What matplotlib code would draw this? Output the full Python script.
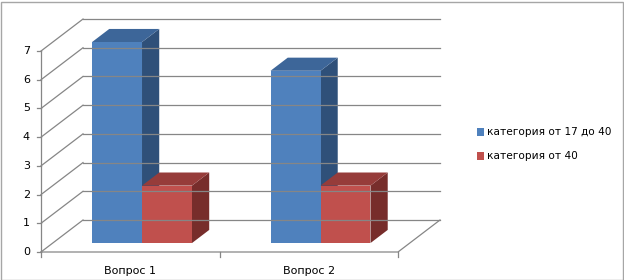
import matplotlib
matplotlib.use("Agg")
import matplotlib.pyplot as plt
from matplotlib.patches import Polygon, Rectangle

categories = ["Вопрос 1", "Вопрос 2"]
series_names = ["категория от 17 до 40", "категория от 40"]
series_values = [[7, 6], [2, 2]]
y_ticks = [0, 1, 2, 3, 4, 5, 6, 7]

front_cols = ["#4F81BD", "#C0504D"]
top_cols = ["#3D6699", "#963C3A"]
side_cols = ["#2F5079", "#772D2B"]
grid_col = "#868686"

W, H = 624, 280
fig = plt.figure(figsize=(W / 100, H / 100), dpi=100)
ax = fig.add_axes([0, 0, 1, 1])
ax.axis("off")

# pixel geometry of the front plane
x0_px, cat_px = 41, 178.5
y0_px, unit_px = 252, 28.71
ax.set_xlim((0 - x0_px) / cat_px, (W - x0_px) / cat_px)
ax.set_ylim((y0_px - H) / unit_px, y0_px / unit_px)

DX = 42 / cat_px
DY = 32 / unit_px
ncat = len(categories)
ymax = max(y_ticks)


def P(x, y, d):
    return (x + d * DX, y + d * DY)


lw = 0.9
# back wall gridlines
for v in y_ticks:
    a, b = P(0, v, 1), P(ncat, v, 1)
    ax.plot([a[0], b[0]], [a[1], b[1]], color=grid_col, lw=lw)
    c = P(0, v, 0)
    ax.plot([c[0], a[0]], [c[1], a[1]], color=grid_col, lw=lw)
    # tick mark
    ax.plot([c[0] - 4 / cat_px, c[0]], [c[1], c[1]], color=grid_col, lw=lw)
    ax.text(c[0] - 11 / cat_px, v, str(v), ha="right", va="center",
            fontsize=8, color="#000000")

# front value axis
a, b = P(0, 0, 0), P(0, ymax, 0)
ax.plot([a[0], b[0]], [a[1], b[1]], color=grid_col, lw=lw)
# floor
pts = [P(0, 0, 0), P(ncat, 0, 0), P(ncat, 0, 1)]
ax.plot([p[0] for p in pts], [p[1] for p in pts], color=grid_col, lw=lw)
for i in range(ncat + 1):
    ax.plot([i, i], [0, -5 / unit_px], color=grid_col, lw=lw)
for i, c in enumerate(categories):
    ax.text(i + 0.5, -19 / unit_px, c, ha="center", va="center", fontsize=8)

# bars
bw = 0.28
d0, d1 = 0.28, 0.69
for i in range(ncat):
    for s, vals in enumerate(series_values):
        v = vals[i]
        xl = i + 0.5 - bw + s * bw
        xr = xl + bw
        front = [P(xl, 0, d0), P(xr, 0, d0), P(xr, v, d0), P(xl, v, d0)]
        top = [P(xl, v, d0), P(xr, v, d0), P(xr, v, d1), P(xl, v, d1)]
        side = [P(xr, 0, d0), P(xr, 0, d1), P(xr, v, d1), P(xr, v, d0)]
        ax.add_patch(Polygon(side, closed=True, fc=side_cols[s], ec="none"))
        ax.add_patch(Polygon(top, closed=True, fc=top_cols[s], ec="none"))
        ax.add_patch(Polygon(front, closed=True, fc=front_cols[s], ec="none"))

# legend
for s, name in enumerate(series_names):
    yc = 132 + s * 24
    fig.patches.append(Rectangle((477 / W, 1 - (yc + 4) / H), 7 / W, 8 / H,
                                 transform=fig.transFigure, fc=front_cols[s], ec="none"))
    fig.text(487 / W, 1 - yc / H, name, ha="left", va="center", fontsize=7.6)

# outer frame
fig.patches.append(Rectangle((0.5 / W, 0.5 / H), (W - 2) / W, (H - 2) / H,
                             transform=fig.transFigure, fill=False, ec="#A6A6A6", lw=1))

fig.savefig("out.png", dpi=100)
